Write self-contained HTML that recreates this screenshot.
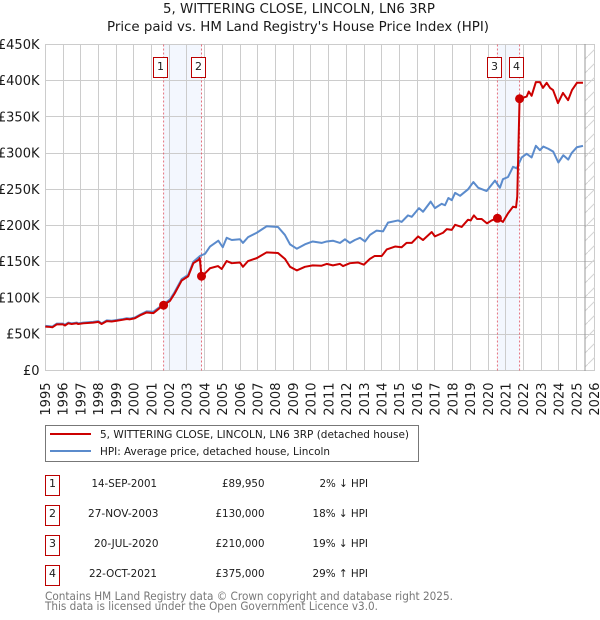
<!DOCTYPE html>
<html lang="en">
<head>
<meta charset="utf-8">
<title>5, WITTERING CLOSE, LINCOLN, LN6 3RP</title>
<style>
html,body{margin:0;padding:0;background:#fff;width:600px;height:620px;overflow:hidden}
svg{display:block}
text{font-family:"DejaVu Sans","Liberation Sans",sans-serif;fill:#1a1a1a}
</style>
</head>
<body>
<svg id="chart" xmlns="http://www.w3.org/2000/svg" width="600" height="620" viewBox="0 0 600 620">
<defs>
<pattern id="hatch" patternUnits="userSpaceOnUse" width="14" height="14">
<path d="M-2 16 L16 -2" stroke="#d4d4d4" stroke-width="1" fill="none"/>
</pattern>
<clipPath id="plot-clip"><rect x="45" y="44" width="550" height="327"/></clipPath>
</defs>
<text x="299" y="13" font-size="13" text-anchor="middle" textLength="272" lengthAdjust="spacingAndGlyphs">5, WITTERING CLOSE, LINCOLN, LN6 3RP</text>
<text x="298" y="31" font-size="13" text-anchor="middle" textLength="382" lengthAdjust="spacingAndGlyphs">Price paid vs. HM Land Registry's House Price Index (HPI)</text>
<g id="bands"></g>
<g id="grid"></g>
<g id="hatch-layer"></g>
<g id="sale-lines"></g>
<g id="series" clip-path="url(#plot-clip)"></g>
<g id="markers"></g>
<g id="labels"></g>
<g id="y-axis"></g>
<g id="x-axis"></g>

<g>
<rect x="45.5" y="425.5" width="373" height="36" fill="#fff" stroke="#777" stroke-width="1"/>
<line x1="50" x2="91" y1="434" y2="434" stroke="#cc0000" stroke-width="2"/>
<text x="100" y="438" font-size="11" textLength="309" lengthAdjust="spacingAndGlyphs">5, WITTERING CLOSE, LINCOLN, LN6 3RP (detached house)</text>
<line x1="50" x2="91" y1="451" y2="451" stroke="#5b8bcc" stroke-width="2"/>
<text x="100" y="455" font-size="11" textLength="230" lengthAdjust="spacingAndGlyphs">HPI: Average price, detached house, Lincoln</text>
</g>

<g font-size="11">
<g>
<rect x="45.5" y="475.5" width="14" height="20" fill="#fff" stroke="#bb0000"/>
<text x="52.5" y="487" text-anchor="middle">1</text>
<text x="91.5" y="487" textLength="65.5" lengthAdjust="spacingAndGlyphs">14-SEP-2001</text>
<text x="222" y="487" textLength="42.5" lengthAdjust="spacingAndGlyphs">£89,950</text>
<text x="319.5" y="487" textLength="48.5" lengthAdjust="spacingAndGlyphs">2% ↓ HPI</text>
</g>
<g>
<rect x="45.5" y="505.5" width="14" height="20" fill="#fff" stroke="#bb0000"/>
<text x="52.5" y="517" text-anchor="middle">2</text>
<text x="88" y="517" textLength="70.5" lengthAdjust="spacingAndGlyphs">27-NOV-2003</text>
<text x="215.5" y="517" textLength="49" lengthAdjust="spacingAndGlyphs">£130,000</text>
<text x="312.5" y="517" textLength="55.5" lengthAdjust="spacingAndGlyphs">18% ↓ HPI</text>
</g>
<g>
<rect x="45.5" y="535.5" width="14" height="20" fill="#fff" stroke="#bb0000"/>
<text x="52.5" y="547" text-anchor="middle">3</text>
<text x="94" y="547" textLength="64.5" lengthAdjust="spacingAndGlyphs">20-JUL-2020</text>
<text x="215.5" y="547" textLength="49" lengthAdjust="spacingAndGlyphs">£210,000</text>
<text x="312.5" y="547" textLength="55.5" lengthAdjust="spacingAndGlyphs">19% ↓ HPI</text>
</g>
<g>
<rect x="45.5" y="565.5" width="14" height="20" fill="#fff" stroke="#bb0000"/>
<text x="52.5" y="577" text-anchor="middle">4</text>
<text x="89" y="577" textLength="68" lengthAdjust="spacingAndGlyphs">22-OCT-2021</text>
<text x="215.5" y="577" textLength="49" lengthAdjust="spacingAndGlyphs">£375,000</text>
<text x="312.5" y="577" textLength="55.5" lengthAdjust="spacingAndGlyphs">29% ↑ HPI</text>
</g>
</g>

<text x="45" y="600" font-size="11.5" style="fill:#777" textLength="408" lengthAdjust="spacingAndGlyphs">Contains HM Land Registry data © Crown copyright and database right 2025.</text>
<text x="45" y="610" font-size="11.5" style="fill:#777" textLength="333" lengthAdjust="spacingAndGlyphs">This data is licensed under the Open Government Licence v3.0.</text>
</svg>

<script>
// ---- chart data (values in £ thousands, dates as decimal years) ----
const yearTicks = [1995,1996,1997,1998,1999,2000,2001,2002,2003,2004,2005,2006,2007,2008,2009,2010,2011,2012,2013,2014,2015,2016,2017,2018,2019,2020,2021,2022,2023,2024,2025,2026];
const valueTicks = [0,50,100,150,200,250,300,350,400,450];
const valueTickLabels = ['£0','£50K','£100K','£150K','£200K','£250K','£300K','£350K','£400K','£450K'];

const hpiDates = [1995,1995.25,1995.4,1995.64,1996,1996.11,1996.3,1996.49,1996.77,1996.86,1997.15,1997.7,1998,1998.18,1998.47,1998.75,1999.03,1999.4,1999.6,1999.78,2000.06,2000.35,2000.72,2001.1,2001.66,2002.04,2002.3,2002.7,2003.07,2003.36,2003.74,2004.02,2004.3,2004.77,2005.02,2005.24,2005.53,2005.99,2006.16,2006.45,2006.94,2007.5,2008.14,2008.53,2008.82,2009.2,2009.66,2010.1,2010.6,2010.89,2011.24,2011.64,2011.92,2012.2,2012.48,2012.77,2013.05,2013.33,2013.71,2014.07,2014.35,2014.92,2015.12,2015.48,2015.69,2016.1,2016.33,2016.76,2017,2017.38,2017.57,2017.76,2017.95,2018.14,2018.42,2018.87,2019.17,2019.45,2019.92,2020.39,2020.67,2020.84,2021.13,2021.41,2021.62,2021.71,2021.9,2022.18,2022.46,2022.7,2022.93,2023.12,2023.4,2023.68,2023.97,2024.25,2024.53,2024.72,2025.01,2025.36];
const hpiValues = [61.5,61,60.5,64.5,64.5,63,66,65,66,65,66,67,68,65,69,68.5,69.5,71,72,71.5,73,77,81.5,81,91,98,108,126,132,150,158,161,171,179,170,183,180,181,176,184,190,199,198,187,174,168,174,178,176,178,179,176,181,176,180,183,178,187,193,192,204,207,205,214,212,224,219,233,224,230,228,238,235,245,241,250,260,252,247.6,262,252,264,267,281,279,284,294,299,294,310,304,309,306,302,287,297,291,300,308,310];

const priceDates = [1995,1995.25,1995.4,1995.64,1996,1996.11,1996.3,1996.49,1996.77,1996.86,1997.15,1997.7,1998,1998.18,1998.47,1998.75,1999.03,1999.4,1999.6,1999.78,2000.06,2000.35,2000.72,2001.1,2001.66,2002.04,2002.3,2002.7,2003.07,2003.36,2003.68,2003.72,2003.82,2004.02,2004.3,2004.75,2004.96,2005.24,2005.53,2005.99,2006.16,2006.45,2006.94,2007.5,2008.14,2008.53,2008.82,2009.2,2009.66,2010.1,2010.6,2010.89,2011.24,2011.64,2011.81,2012.2,2012.65,2012.99,2013.33,2013.6,2014,2014.28,2014.75,2015.12,2015.4,2015.69,2016.05,2016.33,2016.82,2017,2017.46,2017.67,2017.95,2018.14,2018.51,2018.87,2019.02,2019.2,2019.38,2019.64,2019.94,2020.2,2020.52,2020.84,2021.13,2021.41,2021.58,2021.65,2021.78,2022.18,2022.3,2022.46,2022.7,2022.93,2023.1,2023.31,2023.5,2023.67,2023.95,2024.23,2024.52,2024.74,2025.02,2025.36];
const priceValues = [60.5,60,59.5,63.5,63.5,62,65,64,65,64,65,66,67,64,68,67.5,68.5,70,71,70.5,72,76,80,79,90,96,106,124,130,148,153,155,130,134,141,144,140,151,148,149,143,151,155,163,162,154,143,138,143,145,144.5,147,145,147,144,148,149,146,154,158,158,167,171,170,176,176,185,180,191,185,190,195,194,201,198,208,207,214,209,209,203,207,210,205,217,226,225,240,375,378,385,379,398,398,390,397,390,387,369,383,373,387,397,397];

const saleNumbers = ['1','2','3','4'];
const saleDates = [2001.68,2003.82,2020.53,2021.78];
const salePrices = [89.95,130,210,375];

// ---- axis functions ----
const NS = 'http://www.w3.org/2000/svg';
const xScale = function (year) { return 45.3 + (year - 1995) * 17.71; };
const yScale = function (value) { return 370.4 - value * 0.7244; };
const snap = function (v) { return Math.floor(v) + 0.5; };
const node = function (parentId, tag, attrs) {
  const el = document.createElementNS(NS, tag);
  Object.keys(attrs).forEach(function (k) { el.setAttribute(k, attrs[k]); });
  document.getElementById(parentId).appendChild(el);
  return el;
};

// shaded bands between sale pairs
[[0, 1], [2, 3]].forEach(function (pair) {
  const a = xScale(saleDates[pair[0]]);
  const b = xScale(saleDates[pair[1]]);
  const el = node('bands', 'rect', { x: a, y: 44.5, width: b - a, height: 326, fill: '#f3f7fe' });
  
  
});

// grid
valueTicks.forEach(function (v) {
  const y = snap(yScale(v));
  const el = node('grid', 'line', { x1: 45, x2: 595, y1: y, y2: y, stroke: '#ccc', 'stroke-width': 1 });
  
  
});
yearTicks.forEach(function (t) {
  const x = snap(xScale(t));
  const el = node('grid', 'line', { x1: x, x2: x, y1: 44, y2: 371, stroke: '#ccc', 'stroke-width': 1 });
  
  
});

// hatched region after latest data
const hatchEl = node('hatch-layer', 'rect', { x: 585, y: 45, width: 10, height: 325, fill: 'url(#hatch)' });


const edgeEl = node('hatch-layer', 'line', { x1: 585, x2: 585, y1: 44, y2: 371, stroke: '#999', 'stroke-width': 1 });



// sale dotted lines
saleDates.forEach(function (d) {
  const x = xScale(d);
  const el = node('sale-lines', 'line', { x1: x, x2: x, y1: 44.5, y2: 370.5, stroke: '#e0505f', 'stroke-width': 1, 'stroke-dasharray': '2 2', opacity: 0.8 });
  
  
});

// series
const linePath = function (dates, values) {
  return dates.map(function (d, i) {
    return (i ? 'L' : 'M') + xScale(d).toFixed(2) + ' ' + yScale(values[i]).toFixed(2);
  }).join(' ');
};
const hpiLine = node('series', 'path', { d: linePath(hpiDates, hpiValues), fill: 'none', stroke: '#5b8bcc', 'stroke-width': 2, 'stroke-linejoin': 'round' });


const priceLine = node('series', 'path', { d: linePath(priceDates, priceValues), fill: 'none', stroke: '#cc0000', 'stroke-width': 2, 'stroke-linejoin': 'round' });



// sale markers and number badges
saleDates.forEach(function (d, i) {
  const m = node('markers', 'circle', { cx: xScale(d), cy: yScale(salePrices[i]), r: 4.5, fill: '#cc0000' });
  
  
  const box = node('labels', 'rect', { x: Math.floor(xScale(d)) - 10 + 0.5, y: 57.5, width: 14, height: 20, fill: '#fff', stroke: '#bb0000', 'stroke-width': 1 });
  
  
  const t = node('labels', 'text', { x: Math.floor(xScale(d)) - 3 + 0.5, y: 70, 'font-size': 11, 'text-anchor': 'middle' });
  
  
  t.textContent = saleNumbers[i];
});

// axis labels
valueTicks.forEach(function (v, i) {
  const t = node('y-axis', 'text', { x: 39.5, y: yScale(v) + 4.5, 'font-size': 13, 'text-anchor': 'end' });
  
  
  t.textContent = valueTickLabels[i];
});
yearTicks.forEach(function (yr) {
  const x = xScale(yr) + 4.7;
  const t = node('x-axis', 'text', { x: x, y: 382.5, 'font-size': 13, 'text-anchor': 'end', transform: 'rotate(-90 ' + x + ' 382.5)' });
  
  
  t.textContent = String(yr);
});
</script>
</body>
</html>
